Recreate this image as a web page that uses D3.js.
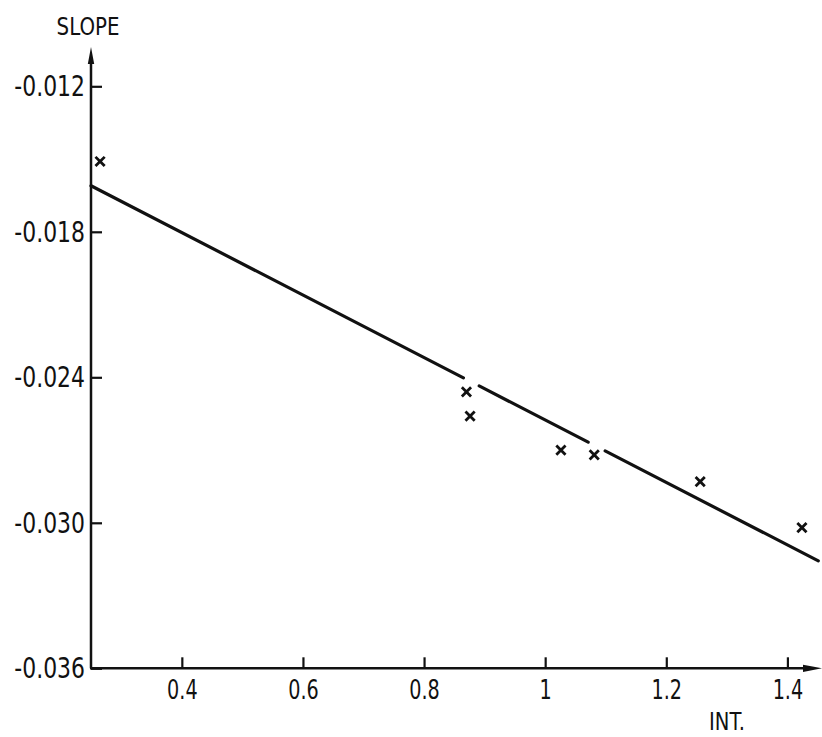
<!DOCTYPE html>
<html>
<head>
<meta charset="utf-8">
<script src="https://cdn.jsdelivr.net/npm/d3@7"></script>
<style>
  body { margin: 0; background: #fff; }
  svg { display: block; }
  text { font-family: "Liberation Sans Narrow", "DejaVu Sans Condensed", "Liberation Sans", sans-serif; fill: #111; }
</style>
</head>
<body>
<div id="chart"></div>
<script>
var width = 822;
var height = 737;

// measured points (INT., SLOPE)
var intValues = [0.265, 0.870, 0.876, 1.026, 1.081, 1.256, 1.424];
var slopeValues = [-0.0151, -0.0246, -0.0256, -0.0270, -0.0272, -0.0283, -0.0302];

// fitted line, drawn in pieces (it is broken where it passes the crosses)
var lineStarts = [0.25, 0.891, 1.099];
var lineEnds = [0.865, 1.071, 1.451];
var lineIntercept = -0.0161;   // SLOPE at INT. = 0.25
var lineGradient = -0.01288;

var xTicks = [0.4, 0.6, 0.8, 1, 1.2, 1.4];
var xTickLabels = ["0.4", "0.6", "0.8", "1", "1.2", "1.4"];
var yTicks = [-0.012, -0.018, -0.024, -0.030, -0.036];
var yTickLabels = ["-0.012", "-0.018", "-0.024", "-0.030", "-0.036"];

var x = d3.scaleLinear().domain([0.25, 1.4]).range([91, 787.4]);
var y = d3.scaleLinear().domain([-0.036, -0.012]).range([668.3, 86.3]);

var svg = d3.select("#chart")
    .append("svg")
    .attr("width", width)
    .attr("height", height);

// squeeze text horizontally, the original lettering is narrow
function narrow(sel, k) {
    sel.each(function() {
        var w = this.getComputedTextLength();
        d3.select(this)
            .attr("textLength", w * k)
            .attr("lengthAdjust", "spacingAndGlyphs");
    });
}

// axes (ticks point inward)
var xAxis = svg.append("g")
    .attr("transform", "translate(0," + y(-0.036) + ")")
    .call(d3.axisBottom(x)
        .tickValues(xTicks)
        .tickFormat(function(d, i) { return xTickLabels[i]; })
        .tickSizeInner(-11)
        .tickSizeOuter(0)
        .tickPadding(12));

var yAxis = svg.append("g")
    .attr("transform", "translate(" + x(0.25) + ",0)")
    .call(d3.axisLeft(y)
        .tickValues(yTicks)
        .tickFormat(function(d, i) { return yTickLabels[i]; })
        .tickSizeInner(-11)
        .tickSizeOuter(0)
        .tickPadding(6));

svg.selectAll(".domain").remove();
svg.selectAll(".tick line").attr("stroke", "#111").attr("stroke-width", 2.2);
xAxis.selectAll("text").attr("font-size", 26).attr("font-family", null).call(narrow, 0.82);
yAxis.selectAll("text").attr("font-size", 29).attr("font-family", null).call(narrow, 0.84);

// axis lines with arrows
var x0 = x(0.25), y0 = y(-0.036);
svg.append("line")
    .attr("x1", x0).attr("y1", y0)
    .attr("x2", x0).attr("y2", 60)
    .attr("stroke", "#111").attr("stroke-width", 2.5);
svg.append("path")
    .attr("d", "M" + x0 + ",47 L" + (x0 - 3.2) + ",64 L" + (x0 + 3.2) + ",64 Z")
    .attr("fill", "#111");
svg.append("line")
    .attr("x1", x0 - 1).attr("y1", y0)
    .attr("x2", 808).attr("y2", y0)
    .attr("stroke", "#111").attr("stroke-width", 2.5);
svg.append("path")
    .attr("d", "M822," + y0 + " L803," + (y0 - 3.6) + " L803," + (y0 + 3.6) + " Z")
    .attr("fill", "#111");

// axis titles
svg.append("text")
    .attr("x", 88).attr("y", 35)
    .attr("text-anchor", "middle")
    .attr("font-size", 25)
    .text("SLOPE")
    .call(narrow, 0.88);
svg.append("text")
    .attr("x", 727).attr("y", 730)
    .attr("text-anchor", "middle")
    .attr("font-size", 25)
    .text("INT.")
    .call(narrow, 0.87);

// regression line
svg.append("g")
    .selectAll("line")
    .data(d3.range(lineStarts.length))
    .enter()
    .append("line")
    .attr("x1", function(i) { return x(lineStarts[i]); })
    .attr("y1", function(i) { return y(lineIntercept + lineGradient * (lineStarts[i] - 0.25)); })
    .attr("x2", function(i) { return x(lineEnds[i]); })
    .attr("y2", function(i) { return y(lineIntercept + lineGradient * (lineEnds[i] - 0.25)); })
    .attr("stroke", "#111")
    .attr("stroke-width", 3.2)
    .attr("stroke-linecap", "round");

// crosses
var s = 4.6;
svg.append("g")
    .selectAll("path")
    .data(d3.range(intValues.length))
    .enter()
    .append("path")
    .attr("transform", function(i) { return "translate(" + x(intValues[i]) + "," + y(slopeValues[i]) + ")"; })
    .attr("d", "M" + (-s) + "," + (-s) + "L" + s + "," + s + "M" + (-s) + "," + s + "L" + s + "," + (-s))
    .attr("stroke", "#111")
    .attr("stroke-width", 2.8)
    .attr("fill", "none");
</script>
</body>
</html>
